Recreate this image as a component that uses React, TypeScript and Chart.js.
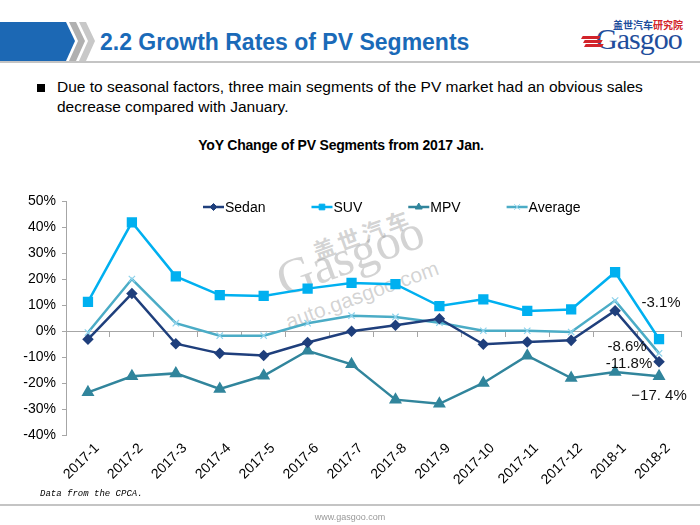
import React, { useEffect, useRef } from "react";
import { Chart, registerables } from "chart.js";
import { drawPoint } from "chart.js/helpers";

Chart.register(...registerables);

const categories = [
  "2017-1", "2017-2", "2017-3", "2017-4", "2017-5", "2017-6", "2017-7",
  "2017-8", "2017-9", "2017-10", "2017-11", "2017-12", "2018-1", "2018-2",
];
const sedan = [-3.2, 14.4, -4.9, -8.6, -9.4, -4.4, -0.1, 2.2, 4.7, -5.1, -4.2, -3.6, 7.8, -11.8];
const suv = [11.2, 41.8, 21.0, 13.8, 13.5, 16.3, 18.5, 18.0, 9.6, 12.2, 7.7, 8.3, 22.6, -3.1];
const mpv = [-23.6, -17.4, -16.3, -22.3, -17.2, -7.6, -12.8, -26.4, -28.0, -20.0, -9.5, -18.1, -15.8, -17.4];
const average = [-0.6, 20.0, 3.0, -1.8, -1.8, 3.0, 5.9, 5.4, 3.2, 0.1, 0.1, -0.4, 11.7, -8.6];
const seriesNames = ["Sedan", "SUV", "MPV", "Average"];
const yMin = -40;
const yMax = 50;
const yStep = 10;

const FONT = '"Liberation Sans", Arial, sans-serif';

const COLORS = {
  sedan: "#1F3F7C",
  suv: "#00B0F0",
  mpv: "#31859C",
  average: "#4BACC6",
  averagePoint: "#8FD3EC",
};

// label offsets (style only) for end-of-series labels, by dataset index
const endLabelOffsets: Record<number, [number, number]> = {
  0: [-30, 2],
  1: [2, -36],
  2: [0, 20],
  3: [-32, -7],
};

const fmtEnd = (v: number, i: number) => {
  const s = v.toFixed(1);
  if (i === 2) return s.replace("-", "\u2212").replace(".", ". ") + "%";
  return s + "%";
};

const legendPlugin = {
  id: "customLegend",
  afterDraw(chart: any) {
    const ctx = chart.ctx;
    ctx.save();
    ctx.font = `14px ${FONT}`;
    ctx.textBaseline = "middle";
    let x = 203;
    const y = 47;
    const gap = 46;
    chart.data.datasets.forEach((ds: any) => {
      ctx.strokeStyle = ds.borderColor;
      ctx.lineWidth = 2.5;
      ctx.beginPath();
      ctx.moveTo(x, y);
      ctx.lineTo(x + 21, y);
      ctx.stroke();
      ctx.fillStyle = ds.pointBackgroundColor;
      ctx.strokeStyle = ds.pointBorderColor;
      ctx.lineWidth = 1;
      drawPoint(ctx, { pointStyle: ds.pointStyle, rotation: 0, radius: ds.legendRadius, borderWidth: 1 }, x + 10.5, y);
      ctx.fillStyle = "#000";
      ctx.fillText(ds.label, x + 22, y + 1);
      const w = ctx.measureText(ds.label).width;
      x = x + 22 + w + gap;
    });
    ctx.restore();
  },
};

const endLabelPlugin = {
  id: "endLabels",
  afterDatasetsDraw(chart: any) {
    const ctx = chart.ctx;
    ctx.save();
    ctx.font = `15px ${FONT}`;
    ctx.textAlign = "center";
    ctx.textBaseline = "middle";
    ctx.fillStyle = "#111";
    chart.data.datasets.forEach((ds: any, i: number) => {
      const meta = chart.getDatasetMeta(i);
      const el = meta.data[meta.data.length - 1];
      const v = ds.data[ds.data.length - 1];
      const [dx, dy] = endLabelOffsets[i];
      ctx.fillText(fmtEnd(v, i), el.x + dx, el.y + dy);
    });
    ctx.restore();
  },
};

function ChartCanvas() {
  const ref = useRef<HTMLCanvasElement | null>(null);
  useEffect(() => {
    if (!ref.current) return;
    const chart = new Chart(ref.current, {
      type: "line",
      data: {
        labels: categories,
        datasets: [
          {
            label: seriesNames[0],
            data: sedan,
            borderColor: COLORS.sedan,
            backgroundColor: COLORS.sedan,
            pointBackgroundColor: COLORS.sedan,
            pointBorderColor: COLORS.sedan,
            pointStyle: "rectRot",
            pointRadius: 4,
            borderWidth: 2.5,
            order: 1,
            legendRadius: 3.5,
          } as any,
          {
            label: seriesNames[1],
            data: suv,
            borderColor: COLORS.suv,
            backgroundColor: COLORS.suv,
            pointBackgroundColor: COLORS.suv,
            pointBorderColor: COLORS.suv,
            pointStyle: "rect",
            pointRadius: 5.5,
            borderWidth: 2.5,
            order: 2,
            legendRadius: 4,
          } as any,
          {
            label: seriesNames[2],
            data: mpv,
            borderColor: COLORS.mpv,
            backgroundColor: COLORS.mpv,
            pointBackgroundColor: COLORS.mpv,
            pointBorderColor: COLORS.mpv,
            pointStyle: "triangle",
            pointRadius: 5,
            borderWidth: 2.5,
            order: 3,
            legendRadius: 4,
          } as any,
          {
            label: seriesNames[3],
            data: average,
            borderColor: COLORS.average,
            backgroundColor: COLORS.average,
            pointBackgroundColor: COLORS.averagePoint,
            pointBorderColor: COLORS.averagePoint,
            pointStyle: "crossRot",
            pointRadius: 4.5,
            pointBorderWidth: 1.2,
            borderWidth: 2.5,
            order: 4,
            legendRadius: 4,
          } as any,
        ],
      },
      options: {
        responsive: false,
        animation: false,
        devicePixelRatio: 1,
        layout: { padding: { left: 0, right: 19, top: 41, bottom: 0 } },
        plugins: { legend: { display: false }, tooltip: { enabled: false }, title: { display: false } },
        elements: { line: { tension: 0 } },
        scales: {
          x: {
            type: "category",
            position: "bottom",
            offset: true,
            grid: { display: false, drawTicks: false },
            border: { display: false },
            ticks: {
              autoSkip: false,
              maxRotation: 45,
              minRotation: 45,
              color: "#000",
              font: { family: FONT, size: 14 },
              padding: 5,
              labelOffset: 9,
            },
            afterFit: (s: any) => {
              s.height = 65;
            },
          },
          x2: {
            type: "category",
            axis: "x",
            position: { y: 0 },
            offset: true,
            grid: {
              display: true,
              drawOnChartArea: false,
              drawTicks: true,
              tickLength: 5,
              color: "#A6A6A6",
              offset: true,
            },
            border: { display: true, color: "#A6A6A6", width: 1 },
            ticks: { display: false },
            afterFit: (s: any) => {
              s.height = 0;
            },
          } as any,
          y: {
            type: "linear",
            min: yMin,
            max: yMax,
            grid: { drawOnChartArea: false, drawTicks: true, tickLength: 4, color: "#A6A6A6" },
            border: { display: true, color: "#A6A6A6", width: 1 },
            ticks: {
              stepSize: yStep,
              color: "#000",
              font: { family: FONT, size: 14 },
              padding: 6,
              callback: (v: any) => `${v}%`,
            },
            afterFit: (s: any) => {
              s.width = 66;
            },
          },
        },
      },
      plugins: [legendPlugin, endLabelPlugin],
    });
    return () => chart.destroy();
  }, []);
  return (
    <canvas
      ref={ref}
      width={700}
      height={340}
      style={{ position: "absolute", left: 0, top: 160, width: 700, height: 340 }}
    />
  );
}

export default function App() {
  useEffect(() => {
    document.body.style.margin = "0";
  }, []);
  const wm = "rgba(150,150,150,0.42)";
  return (
    <div
      style={{
        position: "fixed",
        left: 0,
        top: 0,
        width: 700,
        height: 525,
        background: "#fff",
        overflow: "hidden",
        fontFamily: FONT,
      }}
    >
      {/* header band */}
      <svg width={110} height={45} style={{ position: "absolute", left: 0, top: 20 }}>
        <polygon points="0,2 66,2 75,21 66,41 0,41" fill="#1C68B4" />
        <polygon points="69,2 76,2 85,21 76,41 69,41 78,21" fill="#B0B0B0" />
        <polygon points="79,2 86,2 95,21 86,41 79,41 88,21" fill="#C8C8C8" />
      </svg>
      <div style={{ position: "absolute", left: 0, top: 61, width: 700, height: 2, background: "#C4C4C4" }} />
      <div
        style={{
          position: "absolute",
          left: 100,
          top: 28,
          fontSize: 23,
          fontWeight: "bold",
          color: "#1A6AB8",
          whiteSpace: "nowrap",
          lineHeight: "28px",
        }}
      >
        2.2 Growth Rates of PV Segments
      </div>
      {/* logo */}
      <div
        style={{
          position: "absolute",
          left: 613,
          top: 19,
          fontSize: 10,
          fontWeight: "bold",
          fontFamily: '"Noto Sans CJK SC", sans-serif',
          lineHeight: "11px",
          whiteSpace: "nowrap",
        }}
      >
        <span style={{ color: "#1F4E9C" }}>盖世汽车</span>
        <span style={{ color: "#D2232A" }}>研究院</span>
      </div>
      <div
        style={{
          position: "absolute",
          left: 596,
          top: 24,
          fontSize: 30,
          fontFamily: '"Liberation Serif", "DejaVu Serif", serif',
          color: "#1F4E9C",
          lineHeight: "30px",
          whiteSpace: "nowrap",
          letterSpacing: -1,
        }}
      >
        Gasgoo
      </div>
      {[0, 1, 2].map((i) => (
        <div
          key={i}
          style={{
            position: "absolute",
            left: 582 + i * 1.5,
            top: 36 + i * 4,
            width: 18,
            height: 2.5,
            background: "#D2232A",
            transform: "skewX(-30deg)",
          }}
        />
      ))}
      {/* bullet */}
      <div style={{ position: "absolute", left: 37, top: 84, width: 8, height: 8, background: "#000" }} />
      <div
        style={{
          position: "absolute",
          left: 57,
          top: 77,
          width: 630,
          fontSize: 15.5,
          lineHeight: "20px",
          color: "#000",
          whiteSpace: "nowrap",
        }}
      >
        Due to seasonal factors, three main segments of the PV market had an obvious sales
        <br />
        decrease compared with January.
      </div>
      {/* chart title */}
      <div
        style={{
          position: "absolute",
          left: 0,
          width: 682,
          top: 137,
          textAlign: "center",
          fontSize: 14,
          fontWeight: "bold",
          color: "#000",
          lineHeight: "16px",
          letterSpacing: -0.2,
        }}
      >
        YoY Change of PV Segments from 2017 Jan.
      </div>
      {/* watermark */}
      <div
        style={{
          position: "absolute",
          left: 362,
          top: 233,
          transform: "translate(-50%,-50%) rotate(-20deg)",
          fontSize: 22,
          fontWeight: "bold",
          color: wm,
          fontFamily: '"Noto Sans CJK SC", sans-serif',
          whiteSpace: "nowrap",
          letterSpacing: 4,
        }}
      >
        盖世汽车
      </div>
      <div
        style={{
          position: "absolute",
          left: 350,
          top: 255,
          transform: "translate(-50%,-50%) rotate(-20deg)",
          fontSize: 50,
          color: wm,
          fontFamily: '"Liberation Serif", "DejaVu Serif", serif',
          whiteSpace: "nowrap",
          lineHeight: "50px",
        }}
      >
        Gasgoo
      </div>
      <div
        style={{
          position: "absolute",
          left: 362,
          top: 295,
          transform: "translate(-50%,-50%) rotate(-20deg)",
          fontSize: 21,
          color: wm,
          whiteSpace: "nowrap",
        }}
      >
        auto.gasgoo.com
      </div>
      <ChartCanvas />
      {/* footer */}
      <div
        style={{
          position: "absolute",
          left: 40,
          top: 489,
          fontSize: 9,
          fontStyle: "italic",
          fontFamily: '"Liberation Mono", "DejaVu Sans Mono", monospace',
          color: "#000",
          whiteSpace: "nowrap",
        }}
      >
        Data from the CPCA.
      </div>
      <div style={{ position: "absolute", left: 0, top: 504, width: 700, height: 2, background: "#C4C4C4" }} />
      <div
        style={{
          position: "absolute",
          left: 0,
          width: 700,
          top: 512,
          textAlign: "center",
          fontSize: 9,
          color: "#999",
        }}
      >
        www.gasgoo.com
      </div>
    </div>
  );
}
